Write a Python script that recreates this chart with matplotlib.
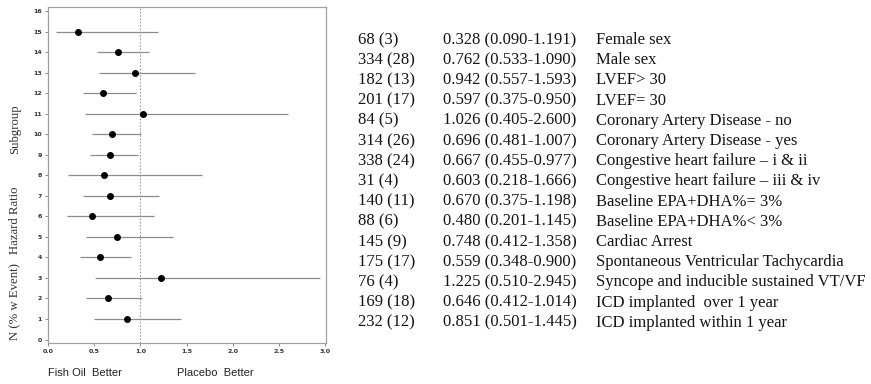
import matplotlib
matplotlib.use("Agg")
import matplotlib.pyplot as plt
import numpy as np

labels = ["Female sex", "Male sex", "LVEF> 30", "LVEF= 30",
          "Coronary Artery Disease - no", "Coronary Artery Disease - yes",
          "Congestive heart failure \u2013 i & ii", "Congestive heart failure \u2013 iii & iv",
          "Baseline EPA+DHA%= 3%", "Baseline EPA+DHA%< 3%", "Cardiac Arrest",
          "Spontaneous Ventricular Tachycardia", "Syncope and inducible sustained VT/VF",
          "ICD implanted  over 1 year", "ICD implanted within 1 year"]
n_total = [68, 334, 182, 201, 84, 314, 338, 31, 140, 88, 145, 175, 76, 169, 232]
n_event = [3, 28, 13, 17, 5, 26, 24, 4, 11, 6, 9, 17, 4, 18, 12]
hr = [0.328, 0.762, 0.942, 0.597, 1.026, 0.696, 0.667, 0.603, 0.670, 0.480,
      0.748, 0.559, 1.225, 0.646, 0.851]
lo = [0.090, 0.533, 0.557, 0.375, 0.405, 0.481, 0.455, 0.218, 0.375, 0.201,
      0.412, 0.348, 0.510, 0.412, 0.501]
hi = [1.191, 1.090, 1.593, 0.950, 2.600, 1.007, 0.977, 1.666, 1.198, 1.145,
      1.358, 0.900, 2.945, 1.014, 1.445]
subgroup = list(range(15, 0, -1))
x_ticks = [0.0, 0.5, 1.0, 1.5, 2.0, 2.5, 3.0]
y_ticks = list(range(0, 17))

fig = plt.figure(figsize=(8.71, 3.84), dpi=100)
ax = fig.add_axes([48/871, 1-343/384, (326-48)/871, (343-7)/384])

ax.hlines(subgroup, lo, hi, color="#8c8c8c", lw=0.9)
ax.plot(hr, subgroup, "o", color="black", ms=4, zorder=3)
ax.axvline(1.0, color="#9a9a9a", ls=(0, (1.5, 1.5)), lw=0.8)

ax.set_xlim(0, 3.01)
ax.set_ylim(-0.17, 16.2)
ax.set_xticks(x_ticks)
ax.set_xticklabels([f"{v:.1f}" for v in x_ticks])
ax.set_yticks(y_ticks)
ax.tick_params(labelsize=4.5, length=2.5, width=0.6, color="#777777", pad=2)
for lab in ax.get_xticklabels() + ax.get_yticklabels():
    lab.set_fontweight("bold")
    lab.set_color("#333333")
for s in ax.spines.values():
    s.set_color("#a0a0a0")
    s.set_linewidth(0.9)

serif = ["Liberation Serif", "DejaVu Serif"]
fig.text(15/871, 1-129/384, "Subgroup", rotation=90, ha="center", va="center",
         family=serif, fontsize=9.2, color="#333333")
fig.text(15/871, 1-220/384, "Hazard Ratio", rotation=90, ha="center", va="center",
         family=serif, fontsize=9.2, color="#333333")
fig.text(15/871, 1-302/384, "N (% w Event)", rotation=90, ha="center", va="center",
         family=serif, fontsize=9.2, color="#333333")

fig.text(48/871, 1-373/384, "Fish Oil  Better", ha="left", va="center",
         family=["Liberation Sans"], fontsize=8, color="#222222")
fig.text(177/871, 1-373/384, "Placebo  Better", ha="left", va="center",
         family=["Liberation Sans"], fontsize=8, color="#222222")

for i in range(len(labels)):
    y = 1 - (40 + i * 20.2) / 384
    fig.text(358/871, y, f"{n_total[i]} ({n_event[i]})", ha="left", va="center",
             family=serif, fontsize=12, color="#151515")
    fig.text(443/871, y, f"{hr[i]:.3f} ({lo[i]:.3f}-{hi[i]:.3f})", ha="left", va="center",
             family=serif, fontsize=12, color="#151515")
    fig.text(596/871, y, labels[i], ha="left", va="center",
             family=serif, fontsize=12, color="#151515")

fig.savefig("out.png", dpi=100)
